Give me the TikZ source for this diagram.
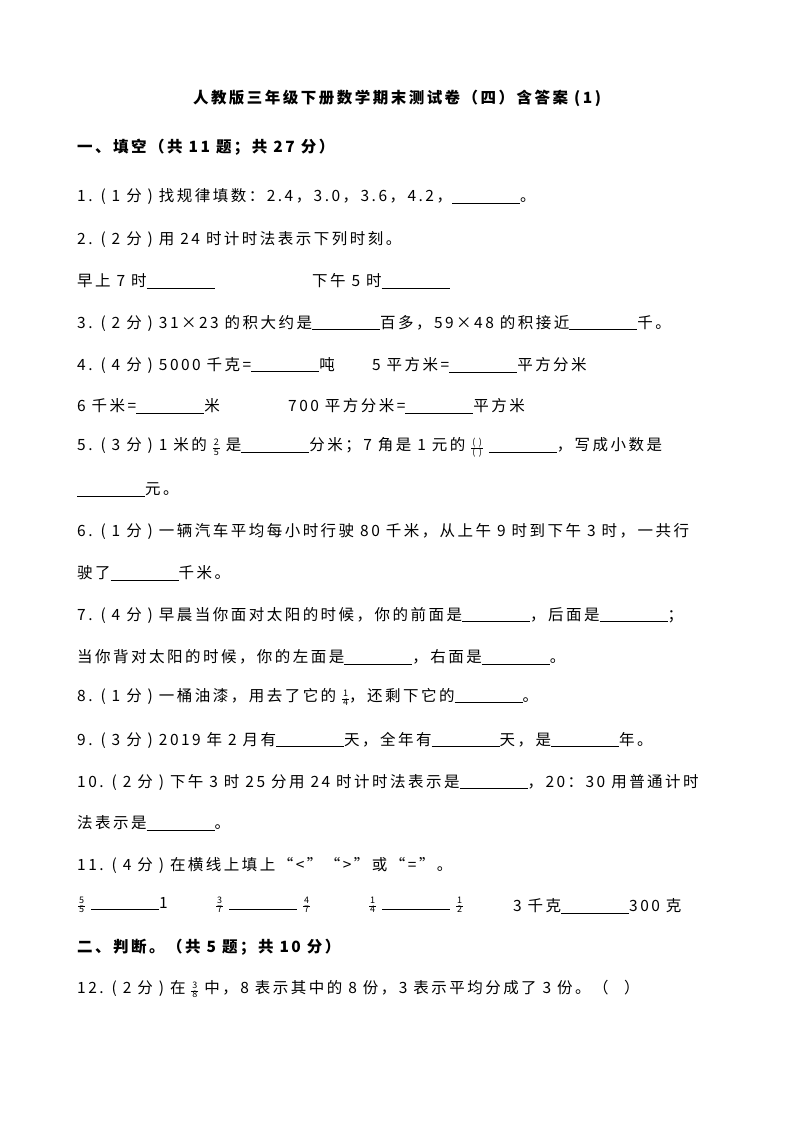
\documentclass[tikz,border=0pt]{standalone}
\usepackage{fontspec}
\setmainfont[LetterSpace=16]{Noto Sans CJK SC}
\begin{document}
\begin{tikzpicture}[x=1pt,y=-1pt,font=\fontsize{15.5}{18}\selectfont,
 ln/.style={anchor=west,inner sep=0pt}]
\useasboundingbox (0,0) rectangle (794,1123);
\newcommand\bl{\underline{\hspace{68pt}}}
\newcommand\fr[2]{{\fontsize{9}{10}\selectfont\renewcommand\arraystretch{0.85}\setlength\tabcolsep{1pt}\begin{tabular}{c}#1\\\hline #2\end{tabular}}}
\node[inner sep=0pt,font=\fontsize{15.5}{18}\selectfont\bfseries] (t) at (397,98) {人教版三年级下册数学期末测试卷（四）含答案 (1)};
\node[ln,font=\fontsize{15.5}{18}\selectfont\bfseries] (s1) at (77,147) {一、填空（共 11 题；共 27 分）};
\node[ln] (q1) at (77,197) {1. ( 1 分 ) 找规律填数：2.4，3.0，3.6，4.2，\bl。};
\node[ln] (q2) at (77,239) {2. ( 2 分 ) 用 24 时计时法表示下列时刻。};
\node[ln] (q2a) at (77,281) {早上 7 时\bl};
\node[ln] (q2b) at (312,281) {下午 5 时\bl};
\node[ln] (q3) at (77,323) {3. ( 2 分 ) 31×23 的积大约是\bl 百多，59×48 的积接近\bl 千。};
\node[ln] (q4) at (77,365) {4. ( 4 分 ) 5000 千克=\bl 吨};
\node[ln] (q4b) at (372,365) {5 平方米=\bl 平方分米};
\node[ln] (q4c) at (77,406) {6 千米=\bl 米};
\node[ln] (q4d) at (288,406) {700 平方分米=\bl 平方米};
\node[ln] (q5) at (77,448) {5. ( 3 分 ) 1 米的 \fr{2}{5} 是\bl 分米；7 角是 1 元的 \fr{( )}{( )} \bl，写成小数是};
\node[ln] (q5b) at (77,490) {\bl 元。};
\node[ln] (q6) at (77,531) {6. ( 1 分 ) 一辆汽车平均每小时行驶 80 千米，从上午 9 时到下午 3 时，一共行};
\node[ln] (q6b) at (77,573) {驶了\bl 千米。};
\node[ln] (q7) at (77,615) {7. ( 4 分 ) 早晨当你面对太阳的时候，你的前面是\bl，后面是\bl；};
\node[ln] (q7b) at (77,657) {当你背对太阳的时候，你的左面是\bl，右面是\bl。};
\node[ln] (q8) at (77,698) {8. ( 1 分 ) 一桶油漆，用去了它的 \fr{1}{4}，还剩下它的\bl。};
\node[ln] (q9) at (77,740) {9. ( 3 分 ) 2019 年 2 月有\bl 天，全年有\bl 天，是\bl 年。};
\node[ln] (q10) at (77,782) {10. ( 2 分 ) 下午 3 时 25 分用 24 时计时法表示是\bl，20：30 用普通计时};
\node[ln] (q10b) at (77,823) {法表示是\bl。};
\node[ln] (q11) at (77,865) {11. ( 4 分 ) 在横线上填上“<”“>”或“=”。};
\node[ln] (a1) at (78,906) {\fr{5}{5} \bl 1};
\node[ln] (a2) at (216,906) {\fr{3}{7} \bl\ \fr{4}{7}};
\node[ln] (a3) at (369,906) {\fr{1}{4} \bl\ \fr{1}{2}};
\node[ln] (a4) at (513,906) {3 千克\bl 300 克};
\node[ln,font=\fontsize{15.5}{18}\selectfont\bfseries] (s2) at (77,947) {二、判断。（共 5 题；共 10 分）};
\node[ln] (q12) at (77,990) {12. ( 2 分 ) 在 \fr{3}{8} 中，8 表示其中的 8 份，3 表示平均分成了 3 份。（\quad）};
\end{tikzpicture}
\end{document}
